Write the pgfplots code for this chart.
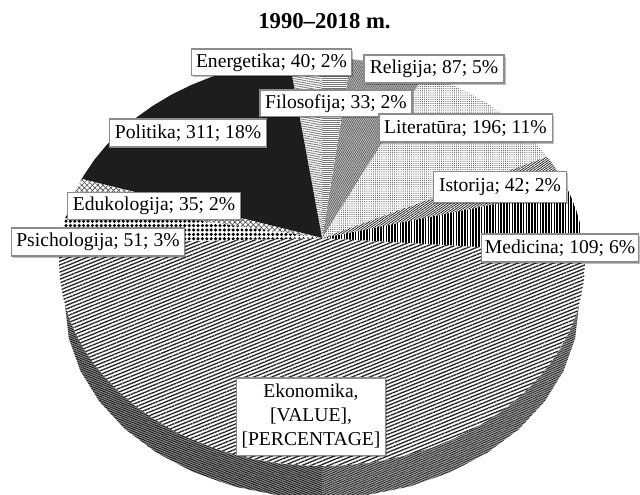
\documentclass[border=0pt]{standalone}
\usepackage{fontspec}
\setmainfont{Liberation Serif}
\usepackage{pgfplots}
\pgfplotsset{compat=1.18}
\usetikzlibrary{patterns.meta,shadows}
% pixel length: 1px = 0.75pt
\tikzset{
 lab/.style={draw=black!45,line width=1pt,fill=white,inner sep=0pt,align=center,
   font=\fontsize{14.7pt}{18pt}\selectfont,
   drop shadow={shadow xshift=1.2pt,shadow yshift=-1.2pt,opacity=.25,fill=black}},
 eko/.style={pattern={Lines[angle=22,distance=2.5pt,line width=1pt]},pattern color=black!85},
}
\pgfplotsset{w/.style={draw=none,no markers,sharp plot,forget plot}}
\begin{document}
\begin{tikzpicture}
\begin{axis}[hide axis,scale only axis,width=480pt,height=370.5pt,
  xmin=0,xmax=640,ymin=0,ymax=494,y dir=reverse]
\path (axis cs:0,0) (axis cs:640,494);
% side of the pie (Ekonomika): left, right
\addplot[w,fill=black!45,postaction={pattern={Lines[angle=-22,distance=1.5pt,line width=.65pt]},pattern color=black!90}] coordinates {
 (65,305)(68.9,338.5)(80.5,371)(99.4,401.5)(125.1,429.1)(156.8,452.8)(193.5,472.1)(234.1,486.4)(277.4,495.1)(322,498)(322,466)(299.1,465.2)(276.3,462.9)(253.9,459)(232.1,453.7)(210.9,446.9)(190.5,438.7)(171.1,429.1)(153,418.3)(136,406.2)(120.5,393.1)(106.6,379)(94.2,364)(83.6,348.2)(74.9,331.8)(68,314.8)};
\addplot[w,fill=black!38,postaction={pattern={Lines[angle=24,distance=1.5pt,line width=.6pt]},pattern color=black!85}] coordinates {
 (322,498)(366.6,495.1)(409.9,486.4)(450.5,472.1)(487.2,452.8)(518.9,429.1)(544.6,401.5)(563.5,371)(575.1,338.5)(579,305)(576,314.8)(569.1,331.8)(560.4,348.2)(549.8,364)(537.4,379)(523.5,393.1)(508,406.2)(491,418.3)(472.9,429.1)(453.5,438.7)(433.1,446.9)(411.9,453.7)(390.1,459)(367.7,462.9)(344.9,465.2)(322,466)};
% Ekonomika
\addplot[w,fill=white,postaction={eko}] coordinates {
 (322,238)(584.8,253)(585,262)(584,279.8)(581,297.4)(576,314.8)(569.1,331.8)(560.4,348.2)(549.8,364)(537.4,379)(523.5,393.1)(508,406.2)(491,418.3)(472.9,429.1)(453.5,438.7)(433.1,446.9)(411.9,453.7)(390.1,459)(367.7,462.9)(344.9,465.2)(322,466)(299.1,465.2)(276.3,462.9)(253.9,459)(232.1,453.7)(210.9,446.9)(190.5,438.7)(171.1,429.1)(153,418.3)(136,406.2)(120.5,393.1)(106.6,379)(94.2,364)(83.6,348.2)(74.9,331.8)(68,314.8)(63,297.4)(60,279.8)(59,262)(60,244.2)};
% Medicina
\addplot[w,fill=white,postaction={pattern={Lines[angle=90,distance=2.1pt,line width=1.1pt]},pattern color=black}] coordinates {
 (322,238)(567.9,189.6)(569.1,192.2)(576,209.2)(581,226.6)(584,244.2)(584.8,253)};
% Istorija
\addplot[w,fill=white,postaction={pattern={Lines[angle=35,distance=1.4pt,line width=.6pt]},pattern color=black!85}] coordinates {
 (322,238)(547,156.6)(549.8,160)(560.4,175.8)(567.9,189.6)};
% Literatura
\addplot[w,fill=white,postaction={pattern={Dots[distance=1.6pt,radius=.42pt]},pattern color=black!70}] coordinates {
 (322,238)(424.8,74.2)(433.1,77.1)(453.5,85.3)(472.9,94.9)(491,105.7)(508,117.8)(523.5,130.9)(537.4,145)(547,156.6)};
% Religija
\addplot[w,fill=black!25,postaction={pattern={Lines[angle=60,distance=1.3pt,line width=.5pt]},pattern color=black!65}] coordinates {
 (322,238)(350.9,59.2)(367.7,61.1)(390.1,65)(411.9,70.3)(424.8,74.2)};
% Filosofija
\addplot[w,fill=white,postaction={pattern={Lines[angle=0,distance=1.5pt,line width=.6pt]},pattern color=black!55}] coordinates {
 (322,238)(322,58)(344.9,58.8)(350.9,59.2)};
% Energetika
\addplot[w,fill=white,postaction={pattern={Lines[angle=-10,distance=1.7pt,line width=.7pt]},pattern color=black!50}] coordinates {
 (322,238)(289,59.6)(299.1,58.8)(322,58)};
% Politika
\addplot[w,fill=black!92,postaction={pattern={Dots[distance=1.5pt,radius=.22pt]},pattern color=black!45}] coordinates {
 (322,238)(81.7,179)(83.6,175.8)(94.2,160)(106.6,145)(120.5,130.9)(136,117.8)(153,105.7)(171.1,94.9)(190.5,85.3)(210.9,77.1)(232.1,70.3)(253.9,65)(276.3,61.1)(289,59.6)};
% Edukologija
\addplot[w,fill=white,postaction={pattern={Lines[angle=45,distance=2.8pt,line width=.5pt]},pattern color=black!70},postaction={pattern={Lines[angle=-45,distance=2.8pt,line width=.5pt]},pattern color=black!70}] coordinates {
 (322,238)(70.5,202.4)(74.9,192.2)(81.7,179)};
% Psichologija
\addplot[w,fill=white,postaction={pattern={Dots[distance=3.3pt,radius=1.3pt]},pattern color=black}] coordinates {
 (322,238)(60,244.2)(63,226.6)(68,209.2)(70.5,202.4)};

\node[font=\fontsize{17pt}{19pt}\selectfont\bfseries] at (axis cs:324.5,21) {1990–2018 m.};
\node[lab,minimum width=120pt,minimum height=20pt] at (axis cs:271.5,62.5) {Energetika; 40; 2\%};
\node[lab,minimum width=105pt,minimum height=21pt] at (axis cs:434,69) {Religija; 87; 5\%};
\node[lab,minimum width=114pt,minimum height=20pt] at (axis cs:336,103.5) {Filosofija; 33; 2\%};
\node[lab,minimum width=130pt,minimum height=21pt] at (axis cs:465.5,128) {Literatūra; 196; 11\%};
\node[lab,minimum width=118pt,minimum height=21pt] at (axis cs:188,133) {Politika; 311; 18\%};
\node[lab,minimum width=100pt,minimum height=23pt] at (axis cs:500,187) {Istorija; 42; 2\%};
\node[lab,minimum width=118pt,minimum height=21pt] at (axis cs:560,248) {Medicina; 109; 6\%};
\node[lab,minimum width=130pt,minimum height=20pt] at (axis cs:154,206) {Edukologija; 35; 2\%};
\node[lab,minimum width=130pt,minimum height=21pt] at (axis cs:98,242) {Psichologija; 51; 3\%};
\node[lab,minimum width=112pt,minimum height=58pt] at (axis cs:311,416.5) {Ekonomika,\\{}[VALUE],\\{}[PERCENTAGE]};
\end{axis}
\end{tikzpicture}
\end{document}
